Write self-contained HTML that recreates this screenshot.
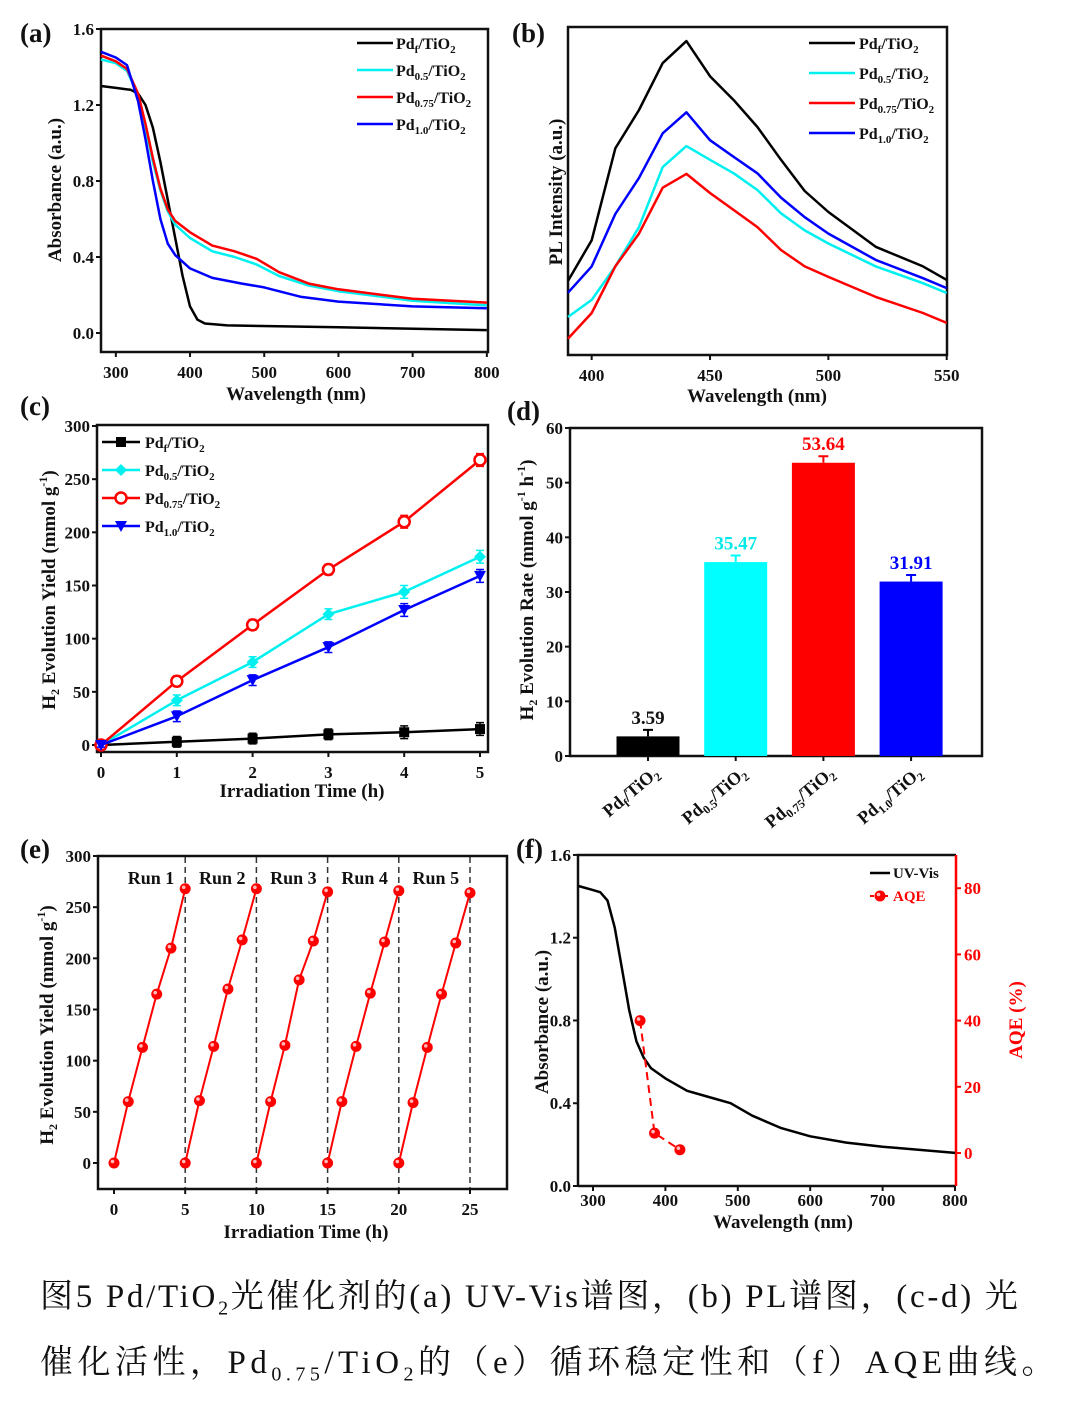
<!DOCTYPE html>
<html><head><meta charset="utf-8"><style>
body{margin:0;background:#fff;}
svg{display:block;font-family:"Liberation Serif","Noto Serif CJK SC",serif;font-weight:bold;}
.cap{position:absolute;left:40px;font-family:"Liberation Serif","Noto Serif CJK SC",serif;font-size:33px;color:#111;white-space:nowrap;}
</style></head><body>
<div style="position:relative;width:1080px;height:1402px;">
<svg id="fig" width="1080" height="1260" viewBox="0 0 1080 1260"></svg>
<div class="cap" style="top:1270px;letter-spacing:2.7px;">图5 Pd/TiO<sub style="font-size:20px">2</sub>光催化剂的(a) UV-Vis谱图，(b) PL谱图，(c-d) 光</div>
<div class="cap" style="top:1336px;letter-spacing:4.5px;">催化活性，Pd<sub style="font-size:20px">0.75</sub>/TiO<sub style="font-size:20px">2</sub>的（e）循环稳定性和（f）AQE曲线。</div>
</div>
<script>
// ---- data ----
const aBlack=[[280,1.30],[300,1.29],[320,1.28],[330,1.26],[340,1.20],[350,1.08],[360,0.90],[370,0.70],[380,0.50],[390,0.30],[400,0.14],[410,0.07],[420,0.05],[450,0.04],[600,0.03],[800,0.015]];
const aCyan=[[280,1.44],[300,1.42],[315,1.38],[330,1.25],[340,1.08],[350,0.90],[360,0.75],[370,0.64],[380,0.57],[400,0.50],[430,0.43],[460,0.40],[490,0.36],[520,0.30],[560,0.25],[600,0.22],[700,0.17],[800,0.145]];
const aRed=[[280,1.46],[300,1.43],[315,1.39],[330,1.26],[340,1.10],[350,0.92],[360,0.76],[370,0.65],[380,0.59],[400,0.53],[430,0.46],[460,0.43],[490,0.39],[520,0.32],[560,0.26],[600,0.23],[700,0.18],[800,0.16]];
const aBlue=[[280,1.48],[300,1.45],[315,1.41],[330,1.22],[340,1.02],[350,0.80],[360,0.60],[370,0.47],[380,0.41],[400,0.34],[430,0.29],[470,0.26],[500,0.24],[550,0.19],[600,0.165],[700,0.14],[800,0.13]];
const aXTicks=[300,400,500,600,700,800];
const aYTicks=[0,0.4,0.8,1.2,1.6];
const plWl=[390,400,410,420,430,440,450,460,470,480,490,500,520,540,550];
const plBlack=[22.6,35,63,74.7,89,95.7,85,77.7,69.5,59.5,50,43.6,33,27,22.9];
const plBlue=[19,27,43,54,67.6,74,65.5,60.4,55.4,48,42,37,29,23.4,20.4];
const plCyan=[11.6,16.8,27,39,57.3,63.7,59.5,55.4,50.3,43.2,38,34,27,21.9,18.9];
const plRed=[5,12.8,27,37,51,55.2,49.4,44.2,39,32,27,23.8,17.7,12.8,9.8];
const bXTicks=[400,450,500,550];
const cTime=[0,1,2,3,4,5];
const cBlack=[0,3,6,10,12,15];
const cCyan=[0,42,78,123,144,177];
const cRed=[0,60,113,165,210,268];
const cBlue=[0,27,61,92,127,159];
const cErr=[2,5,5,5,6,6];
const cYTicks=[0,50,100,150,200,250,300];
const dCats=[['Pd','f'],['Pd','0.5'],['Pd','0.75'],['Pd','1.0']];
const dRates=[3.59,35.47,53.64,31.91];
const dErrs=[1.2,1.2,1.2,1.2];
const dYTicks=[0,10,20,30,40,50,60];
const eRuns=[[0,60,113,165,210,268],[0,61,114,170,218,268],[0,60,115,179,217,265],[0,60,114,166,216,266],[0,59,113,165,215,264]];
const eXTicks=[0,5,10,15,20,25];
const fUV=[[280,1.45],[300,1.43],[310,1.42],[320,1.38],[330,1.25],[340,1.05],[350,0.85],[360,0.70],[370,0.62],[380,0.57],[400,0.52],[430,0.46],[460,0.43],[490,0.40],[520,0.34],[560,0.28],[600,0.24],[650,0.21],[700,0.19],[800,0.16]];
const fAQEwl=[365,385,420];
const fAQE=[40,6,1];
const fAQETicks=[0,20,40,60,80];

const svg=document.getElementById('fig');
const NS='http://www.w3.org/2000/svg';
function el(tag,attrs,name,parent){
  const e=document.createElementNS(NS,tag);
  for(const k in attrs)e.setAttribute(k,attrs[k]);
  
  
  (parent||svg).appendChild(e);return e;
}
function txt(x,y,s,size,name,opt){
  opt=opt||{};
  const t=el('text',{x:x,y:y,'font-size':size,fill:opt.fill||'#111','text-anchor':opt.anchor||'middle'},name);
  if(opt.rot!==undefined)t.setAttribute('transform','rotate('+opt.rot+' '+x+' '+y+')');
  t.innerHTML=s;return t;
}
function sub(s,size){return '<tspan dy="4" font-size="'+size+'">'+s+'</tspan><tspan dy="-4">';}
function pdLabel(d,size){return 'Pd'+sub(d,Math.round(size*0.68))+'/TiO'+'</tspan>'+sub('2',Math.round(size*0.68))+'</tspan>';}
function box(x1,y1,x2,y2,name){el('rect',{x:x1,y:y1,width:x2-x1,height:y2-y1,fill:'none',stroke:'#111','stroke-width':2.5},name);}
function poly(pts,color,w,name,dash){
  const a={points:pts.map(p=>p[0].toFixed(1)+','+p[1].toFixed(1)).join(' '),fill:'none',stroke:color,'stroke-width':w,'stroke-linejoin':'round'};
  if(dash)a['stroke-dasharray']=dash;
  return el('polyline',a,name);
}
function xticks(ticks,sx,y,name,fmt,off){ticks.forEach(t=>{const x=sx(t);el('line',{x1:x,y1:y,x2:x,y2:y+5,stroke:'#111','stroke-width':2},name+'-tick');txt(x,y+(off||26),fmt?fmt(t):t,17,name+'-label');});}
function yticks(ticks,sy,x,name,fmt,color,right){ticks.forEach(t=>{const y=sy(t);el('line',{x1:x,y1:y,x2:right?x+5:x-5,y2:y,stroke:color||'#111','stroke-width':2},name+'-tick');txt(right?x+8:x-7,y+6,fmt?fmt(t):t,17,name+'-label',{anchor:right?'start':'end',fill:color});});}
// letters
[['(a)',20,42],['(b)',512,42],['(c)',20,415],['(d)',507,420],['(e)',20,858],['(f)',516,858]].forEach(l=>txt(l[1],l[2],l[0],27,'panel-label',{anchor:'start'}));

// ---- Panel A ----
{const sx=v=>101+(v-280)*0.742, sy=v=>333-v*190;
box(101,29,488,352,'panel-a-frame');
xticks(aXTicks,sx,352,'a-x-tick');
yticks(aYTicks,sy,101,'a-y-tick',v=>v.toFixed(1));
[[aBlack,'#000','black'],[aCyan,'#00f0f0','cyan'],[aRed,'#f00','red'],[aBlue,'#00f','blue']].forEach(s=>poly(s[0].map(p=>[sx(p[0]),sy(p[1])]),s[1],2.5,'a-line-'+s[2]));
txt(296,400,'Wavelength (nm)',19,'a-x-title');
txt(61,190,'Absorbance (a.u.)',19,'a-y-title',{rot:-90});
[['f','#000'],['0.5','#00f0f0'],['0.75','#f00'],['1.0','#00f']].forEach((l,i)=>{const y=43+i*27;el('line',{x1:357,y1:y,x2:393,y2:y,stroke:l[1],'stroke-width':2.5},'a-legend-line');txt(396,y+6,pdLabel(l[0],16),16,'a-legend-entry',{anchor:'start'});});
}
// ---- Panel B ----
{const sx=v=>568+(v-390)*2.367, sy=v=>355-v*3.28;
box(568,27,947,355,'panel-b-frame');
xticks(bXTicks,sx,355,'b-x-tick');
[[plBlack,'#000','black'],[plCyan,'#00f0f0','cyan'],[plRed,'#f00','red'],[plBlue,'#00f','blue']].forEach(s=>poly(plWl.map((w,i)=>[sx(w),sy(s[0][i])]),s[1],2.5,'b-line-'+s[2]));
txt(757,402,'Wavelength (nm)',19,'b-x-title');
txt(562,192,'PL Intensity (a.u.)',19,'b-y-title',{rot:-90});
[['f','#000'],['0.5','#00f0f0'],['0.75','#f00'],['1.0','#00f']].forEach((l,i)=>{const y=43+i*30;el('line',{x1:809,y1:y,x2:855,y2:y,stroke:l[1],'stroke-width':2.5},'b-legend-line');txt(859,y+6,pdLabel(l[0],16),16,'b-legend-entry',{anchor:'start'});});
}
// ---- Panel C ----
function marker(type,x,y,c,name){
  if(type==='sq')el('rect',{x:x-5,y:y-5,width:10,height:10,fill:c},name);
  else if(type==='di')el('polygon',{points:[x,y-6,x+6,y,x,y+6,x-6,y].join(' '),fill:c},name);
  else if(type==='ci'){el('circle',{cx:x,cy:y,r:5.5,fill:'#fff',stroke:c,'stroke-width':2.5},name);}
  else if(type==='tr')el('polygon',{points:[x-6,y-5,x+6,y-5,x,y+6].join(' '),fill:c},name);
  else if(type==='ball'){el('circle',{cx:x,cy:y,r:5.5,fill:c},name);el('circle',{cx:x-1.5,cy:y-1.5,r:1.8,fill:'#fbb'},name+'-hl');}
}
{const sx=v=>101+v*75.8, sy=v=>745-v*1.0633;
box(97,425,488,752,'panel-c-frame');
xticks(cTime,sx,752,'c-x-tick');
yticks(cYTicks,sy,97,'c-y-tick');
[[cBlack,'#000','sq','black'],[cCyan,'#00f0f0','di','cyan'],[cRed,'#f00','ci','red'],[cBlue,'#00f','tr','blue']].forEach(s=>{
  poly(cTime.map((t,i)=>[sx(t),sy(s[0][i])]),s[1],2.5,'c-line-'+s[3]);
  cTime.forEach((t,i)=>{const x=sx(t),y=sy(s[0][i]),e=cErr[i]*1.0633;
    el('path',{d:'M'+x+' '+(y-e)+'V'+(y+e)+'M'+(x-4)+' '+(y-e)+'H'+(x+4)+'M'+(x-4)+' '+(y+e)+'H'+(x+4),stroke:s[1],'stroke-width':1.5,fill:'none'},'c-error-bar');
    marker(s[2],x,y,s[1],'c-point-'+s[3]);});
});
txt(302,797,'Irradiation Time (h)',19,'c-x-title');
txt(55,590,'H'+sub('2',12)+' Evolution Yield (mmol g<tspan dy="-8" font-size="12">-1</tspan><tspan dy="8">)</tspan></tspan>',19,'c-y-title',{rot:-90});
[['f','#000','sq'],['0.5','#00f0f0','di'],['0.75','#f00','ci'],['1.0','#00f','tr']].forEach((l,i)=>{const y=442+i*28;el('line',{x1:102,y1:y,x2:140,y2:y,stroke:l[1],'stroke-width':2.5},'c-legend-line');marker(l[2],121,y,l[1],'c-legend-marker');txt(145,y+6,pdLabel(l[0],16),16,'c-legend-entry',{anchor:'start'});});
}
// ---- Panel D ----
{const colors=['#000','#00ffff','#ff0000','#0000ff'], lc=['#111','#00e8e8','#f00','#00f'];
const sx=i=>648+i*87.7, sy=v=>756-v*5.467;
box(570,428,982,756,'panel-d-frame');
yticks(dYTicks,sy,570,'d-y-tick');
dRates.forEach((v,i)=>{const x=sx(i);
  el('rect',{x:x-31.5,y:sy(v),width:63,height:756-sy(v),fill:colors[i]},'d-bar');
  const e=dErrs[i]*5.467;
  el('path',{d:'M'+x+' '+sy(v)+'V'+(sy(v)-e)+'M'+(x-5)+' '+(sy(v)-e)+'H'+(x+5),stroke:colors[i],'stroke-width':2,fill:'none'},'d-error-bar');
  txt(x,sy(v)-e-6,v.toFixed(2),19,'d-bar-value',{fill:lc[i]});
  el('line',{x1:x,y1:756,x2:x,y2:761,stroke:'#111','stroke-width':2},'d-x-tick');
  txt(x+12,775,pdLabel(dCats[i][1],18),18,'d-x-label',{anchor:'end',rot:-40});
});
txt(533,590,'H'+sub('2',12)+' Evolution Rate (mmol g<tspan dy="-8" font-size="12">-1</tspan><tspan dy="8"> h</tspan><tspan dy="-8" font-size="12">-1</tspan><tspan dy="8">)</tspan></tspan>',19,'d-y-title',{rot:-90});
}
// ---- Panel E ----
{const sx=v=>114+v*14.24, sy=v=>1163-v*1.0233;
box(98,856,507,1189,'panel-e-frame');
xticks(eXTicks,sx,1189,'e-x-tick');
yticks(cYTicks,sy,98,'e-y-tick');
[5,10,15,20,25].forEach(t=>el('line',{x1:sx(t),y1:857,x2:sx(t),y2:1188,stroke:'#333','stroke-width':1.5,'stroke-dasharray':'6,4'},'e-run-divider'));
eRuns.forEach((run,r)=>{const pts=run.map((v,i)=>[sx(r*5+i),sy(v)]);
  poly(pts,'#f00',2,'e-run-line');
  pts.forEach(p=>marker('ball',p[0],p[1],'#f00','e-point'));
  txt(sx(r*5+2.6),884,'Run '+(r+1),18,'e-run-label');
});
txt(306,1238,'Irradiation Time (h)',19,'e-x-title');
txt(53,1025,'H'+sub('2',12)+' Evolution Yield (mmol g<tspan dy="-8" font-size="12">-1</tspan><tspan dy="8">)</tspan></tspan>',19,'e-y-title',{rot:-90});
}
// ---- Panel F ----
{const sx=v=>593+(v-300)*0.724, sy=v=>1186-v*206.9, sa=v=>1153-v*3.31;
el('path',{d:'M578 1186V855H956',fill:'none',stroke:'#111','stroke-width':2.5},'panel-f-frame');
el('line',{x1:578,y1:1186,x2:956,y2:1186,stroke:'#111','stroke-width':2.5},'f-x-axis');
el('line',{x1:956,y1:855,x2:956,y2:1186,stroke:'#f00','stroke-width':2.5},'f-right-axis');
xticks(aXTicks,sx,1186,'f-x-tick',null,20);
yticks(aYTicks,sy,578,'f-y-tick',v=>v.toFixed(1));
yticks(fAQETicks,sa,956,'f-aqe-tick',null,'#f00',true);
poly(fUV.map(p=>[sx(p[0]),sy(p[1])]),'#000',2.5,'f-uv-line');
poly(fAQEwl.map((w,i)=>[sx(w),sa(fAQE[i])]),'#f00',2,'f-aqe-line','8,5');
fAQEwl.forEach((w,i)=>marker('ball',sx(w),sa(fAQE[i]),'#f00','f-aqe-point'));
txt(783,1228,'Wavelength (nm)',19,'f-x-title');
txt(548,1022,'Absorbance (a.u.)',19,'f-y-title',{rot:-90});
txt(1022,1020,'AQE (%)',19,'f-y2-title',{rot:-90,fill:'#f00'});
el('line',{x1:870,y1:873,x2:890,y2:873,stroke:'#000','stroke-width':2.5},'f-legend-line');
txt(893,878,'UV-Vis',15,'f-legend-entry',{anchor:'start'});
el('line',{x1:870,y1:896,x2:890,y2:896,stroke:'#f00','stroke-width':2,'stroke-dasharray':'4,3'},'f-legend-line');
marker('ball',880,896,'#f00','f-legend-marker');
txt(893,901,'AQE',15,'f-legend-entry',{anchor:'start',fill:'#f00'});
}
</script>
</body></html>
